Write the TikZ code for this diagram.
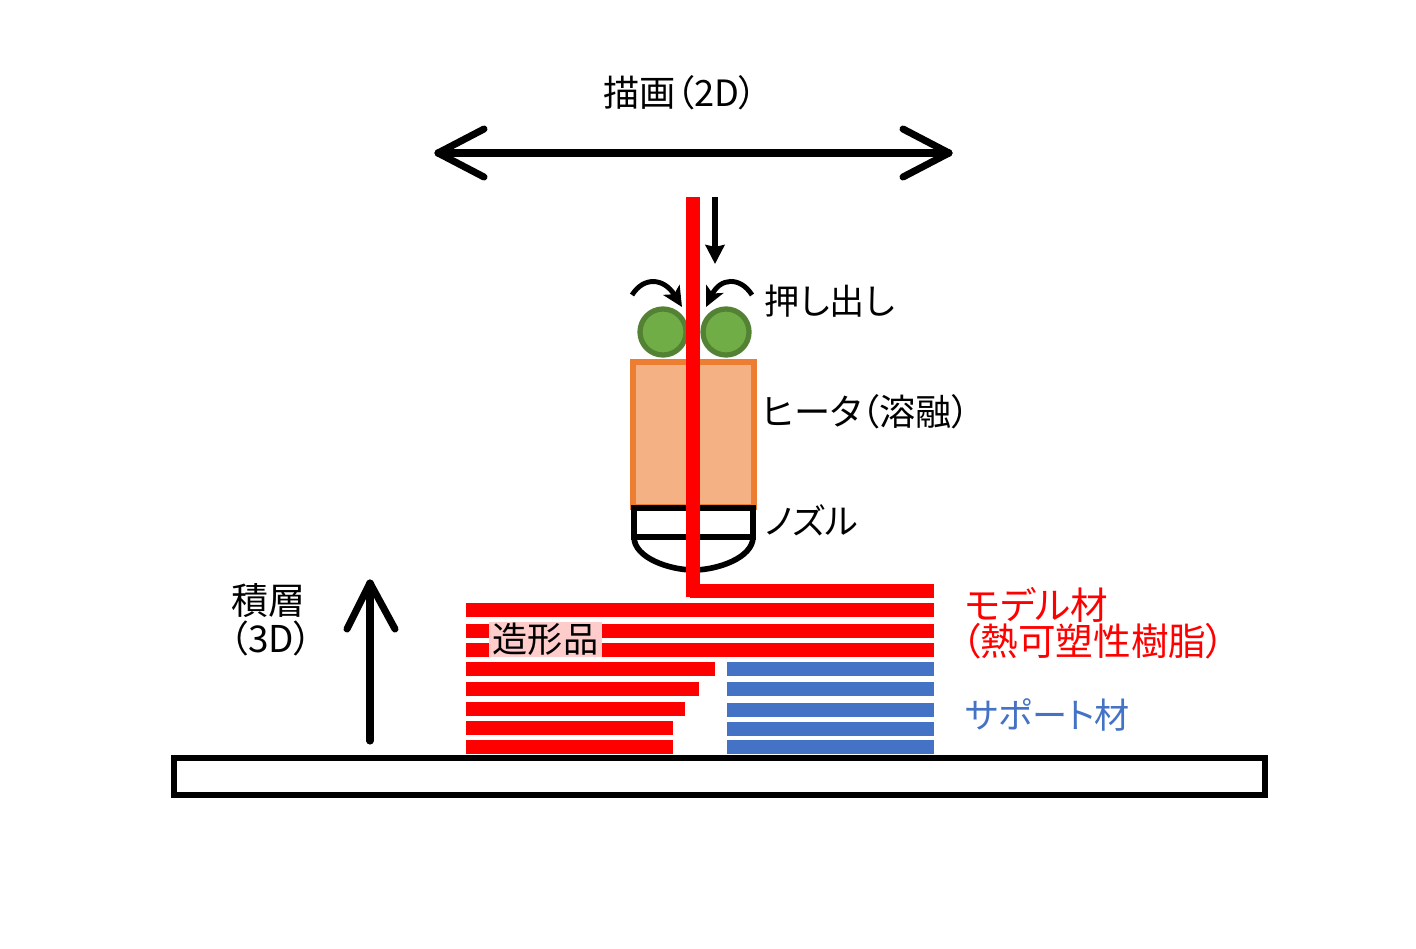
\documentclass[tikz,border=0pt]{standalone}
\usepackage{fontspec}
\setmainfont[RawFeature=+palt]{Noto Sans CJK JP}
\usepackage{xcolor}
\usetikzlibrary{arrows.meta}
\definecolor{heaterfill}{HTML}{F4B183}
\definecolor{heaterline}{HTML}{ED7D31}
\definecolor{rollerfill}{HTML}{70AD47}
\definecolor{rollerline}{HTML}{548235}
\definecolor{supportblue}{HTML}{4472C4}
\definecolor{labelpink}{HTML}{FFCCCC}
\tikzset{
	lbl/.style={anchor=west,inner sep=0pt,font=\fontsize{10}{10}\selectfont},
	biglbl/.style={lbl,font=\fontsize{10.7}{10.7}\selectfont},
	modelbar/.style={fill=red},
	supportbar/.style={fill=supportblue},
	roller/.style={draw=rollerline,fill=rollerfill,line width=1.5pt},
	openhead/.style={line width=2pt,line cap=round,line join=round},
	outline/.style={line width=1.6pt},
}
\begin{document}
\begin{tikzpicture}[x=0.01cm,y=-0.01cm,>=Stealth]
		\useasboundingbox (0,0) rectangle (1416,948);
		
		% Base plate
		\draw[outline] (174,758) rectangle (1265,795);
		
		% Model bars
		\fill[modelbar] (466,603) rectangle (934,617);
		\fill[modelbar] (466,624) rectangle (934,638);
		\fill[modelbar] (466,643) rectangle (934,657);
		\fill[modelbar] (466,662) rectangle (715,676);
		\fill[modelbar] (466,682) rectangle (699,696);
		\fill[modelbar] (466,702) rectangle (685,716);
		\fill[modelbar] (466,721) rectangle (673,735);
		\fill[modelbar] (466,740) rectangle (673,754);
		
		% Support bars
		\foreach \ytop in {662,682,703,722,740}
			\fill[supportbar] (727,\ytop) rectangle (934,\ytop+14);
		
		% Heater and nozzle
		\draw[outline,draw=heaterline,fill=heaterfill] (633,362) rectangle (754,507);
		\draw[outline] (634,508) -- (753,508) -- (753,537) -- (634,537) -- cycle;
		\draw[outline] (634,537) .. controls (634,558) and (670,570) .. (693.5,570) .. controls (717,570) and (753,558) .. (753,537);
		
		% Rollers
		\node[roller,circle,minimum size=0.46cm,inner sep=0pt] (rollerL) at (663,332) {};
		\node[roller,circle,minimum size=0.46cm,inner sep=0pt] (rollerR) at (726,332) {};
		
		% Filament
		\fill[red] (686,197) rectangle (700,597);
		\fill[red] (690,584) rectangle (934,598);
		
		% Drawing direction
		\coordinate (drawL) at (438,153);
		\coordinate (drawR) at (949,153);
		\draw[openhead] (drawL) -- (drawR);
		\draw[openhead] (484,129) -- (drawL) -- (484,177);
		\draw[openhead] (903,129) -- (drawR) -- (903,177);
		
		% Feed
		\coordinate (feedA) at (715,197);
		\coordinate (feedB) at (715,264);
		\draw[-{Stealth[length=0.19cm,width=0.19cm,inset=0.02cm]},line width=1.5pt] (feedA) -- (feedB);
		
		% Roller arrows
		\coordinate (turnLa) at (632,295);
		\coordinate (turnLb) at (682,307);
		\coordinate (turnRa) at (752,295);
		\coordinate (turnRb) at (706,307);
		\draw[-{Stealth[length=0.2cm,width=0.19cm,inset=0.05cm]},line width=1.4pt] (turnLa) .. controls (644,276) and (664,278) .. (turnLb);
		\draw[-{Stealth[length=0.2cm,width=0.19cm,inset=0.05cm]},line width=1.4pt] (turnRa) .. controls (740,276) and (720,278) .. (turnRb);
		
		% Stacking direction
		\coordinate (stackA) at (370,741);
		\coordinate (stackB) at (370,583);
		\draw[openhead] (stackA) -- (stackB);
		\draw[openhead] (347,629) -- (stackB) -- (395,629);
		
		% Labels
		\node[lbl,font=\fontsize{10.3}{10.3}\selectfont] (drawlabel) at (603,93) {描画（2D）};
		\node[lbl] (pushlabel) at (764,301) {押し出し};
		\node[lbl,font=\fontsize{10.3}{10.3}\selectfont] (heaterlabel) at (761,412) {ヒータ（溶融）};
		\node[lbl] (nozzlelabel) at (764,520) {ノズル};
		\node[biglbl,text=red] (modellabel) at (964,605) {モデル材};
		\node[biglbl,text=red] (resinlabel) at (961,641) {（熱可塑性樹脂）};
		\node[lbl,text=supportblue] (supportlabel) at (965,715) {サポート材};
		\node[lbl,font=\fontsize{10.5}{10.5}\selectfont] (stacklabel) at (231,601) {積層};
		\node[lbl,font=\fontsize{10.5}{10.5}\selectfont] (threedlabel) at (229,638) {（3D）};
		\node[lbl,fill=labelpink,minimum width=1.13cm,minimum height=0.35cm,align=center,anchor=center] (partlabel) at (545.5,639.5) {造形品};
		
	\end{tikzpicture}
\end{document}
